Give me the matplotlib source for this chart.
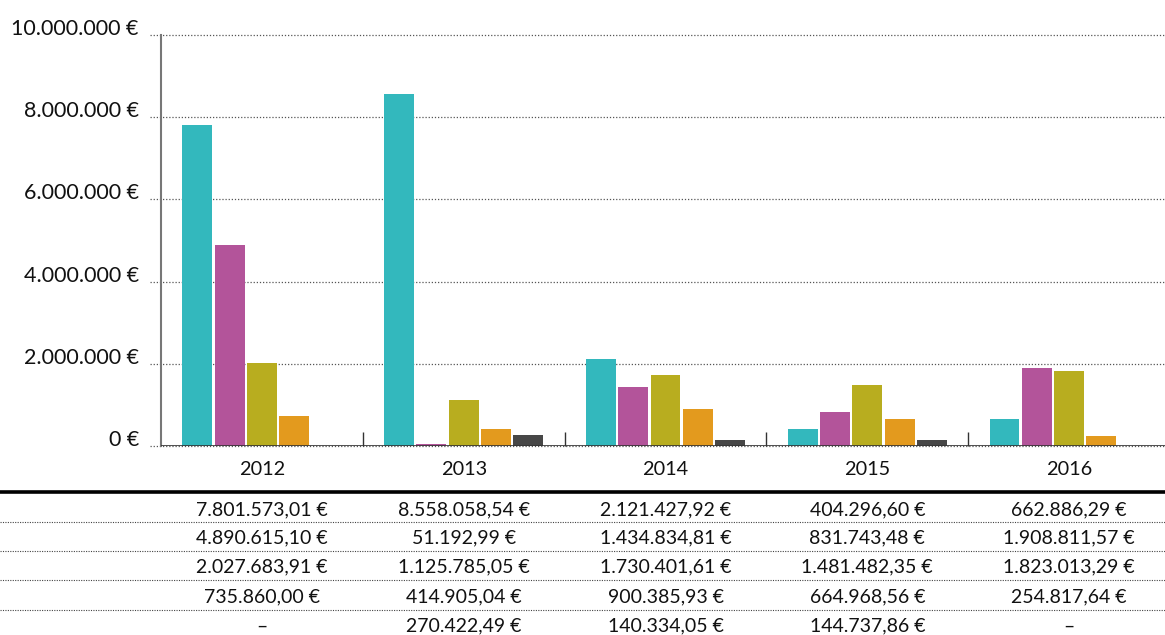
import matplotlib
matplotlib.use("Agg")
import matplotlib.pyplot as plt
import matplotlib.transforms as mtransforms
from matplotlib.lines import Line2D
import numpy as np

plt.rcParams['font.family'] = ['Lato', 'DejaVu Sans']

years = ["2012", "2013", "2014", "2015", "2016"]
series1 = [7801573.01, 8558058.54, 2121427.92, 404296.60, 662886.29]
series2 = [4890615.10, 51192.99, 1434834.81, 831743.48, 1908811.57]
series3 = [2027683.91, 1125785.05, 1730401.61, 1481482.35, 1823013.29]
series4 = [735860.00, 414905.04, 900385.93, 664968.56, 254817.64]
series5 = [None, 270422.49, 140334.05, 144737.86, None]
all_series = [series1, series2, series3, series4, series5]
colors = ["#33B8BD", "#B3549A", "#B8AD1F", "#E39A1E", "#474747"]
yticks = [0, 2000000, 4000000, 6000000, 8000000, 10000000]
ytick_labels = ["0 €", "2.000.000 €", "4.000.000 €", "6.000.000 €", "8.000.000 €", "10.000.000 €"]


def fmt(v):
    if v is None:
        return "–"
    s = f"{v:,.2f}"
    s = s.replace(",", "X").replace(".", ",").replace("X", ".")
    return s + " €"


W, H = 1165, 635
fig = plt.figure(figsize=(W / 100, H / 100), dpi=100)
ax = fig.add_axes([161 / W, 1 - 446 / H, (1170 - 161) / W, (446 - 35) / H])

x = np.arange(len(years))
bw = 0.148
step = 0.16
for i, (s, c) in enumerate(zip(all_series, colors)):
    vals = [0 if v is None else v for v in s]
    ax.bar(x + (i - 2) * step, vals, width=bw, color=c, zorder=3)

ax.set_xlim(-0.5, 4.5)
ax.set_ylim(0, 10000000)

# grid lines (dotted, extending left of axis)
trans = mtransforms.blended_transform_factory(ax.transAxes, ax.transData)
for yv in yticks:
    ax.add_line(Line2D([-11 / 1009, 1], [yv, yv], transform=trans, color="#555555",
                       linestyle=(0, (1, 1.5)), linewidth=0.9, clip_on=False, zorder=1))
ax.axhline(0, color="#333333", linewidth=1.2, zorder=4)

ax.set_yticks(yticks)
ax.set_yticklabels(ytick_labels, fontsize=15.5, color="#111111")
ax.tick_params(axis="y", length=0, pad=16)
for lab in ax.get_yticklabels():
    lab.set_verticalalignment("baseline")

ax.set_xticks(x)
ax.set_xticklabels(years, fontsize=14.3, color="#111111")
ax.tick_params(axis="x", length=0, pad=11)
ax.set_xticks(x[:-1] + 0.5, minor=True)
ax.tick_params(axis="x", which="minor", direction="in", length=10, width=1, color="#333333")

for sp in ["top", "right", "bottom"]:
    ax.spines[sp].set_visible(False)
ax.spines["left"].set_color("#777777")
ax.spines["left"].set_linewidth(1.5)

# table
fig.add_artist(Line2D([0, 1], [1 - 492 / H, 1 - 492 / H], transform=fig.transFigure,
                      color="black", linewidth=2.6))
row_y = [510, 538, 567, 597, 626]
sep_y = [522, 551, 580, 610]
for yy in sep_y:
    fig.add_artist(Line2D([0, 1], [1 - yy / H, 1 - yy / H], transform=fig.transFigure,
                          color="#444444", linestyle=(0, (1, 1.2)), linewidth=0.8))
ttrans = mtransforms.blended_transform_factory(ax.transData, fig.transFigure)
for r, s in enumerate(all_series):
    for j, v in enumerate(s):
        fig.text(x[j], 1 - row_y[r] / H, fmt(v), transform=ttrans, ha="center", va="center",
                 fontsize=14, color="#111111")

fig.savefig("out.png", dpi=100)
